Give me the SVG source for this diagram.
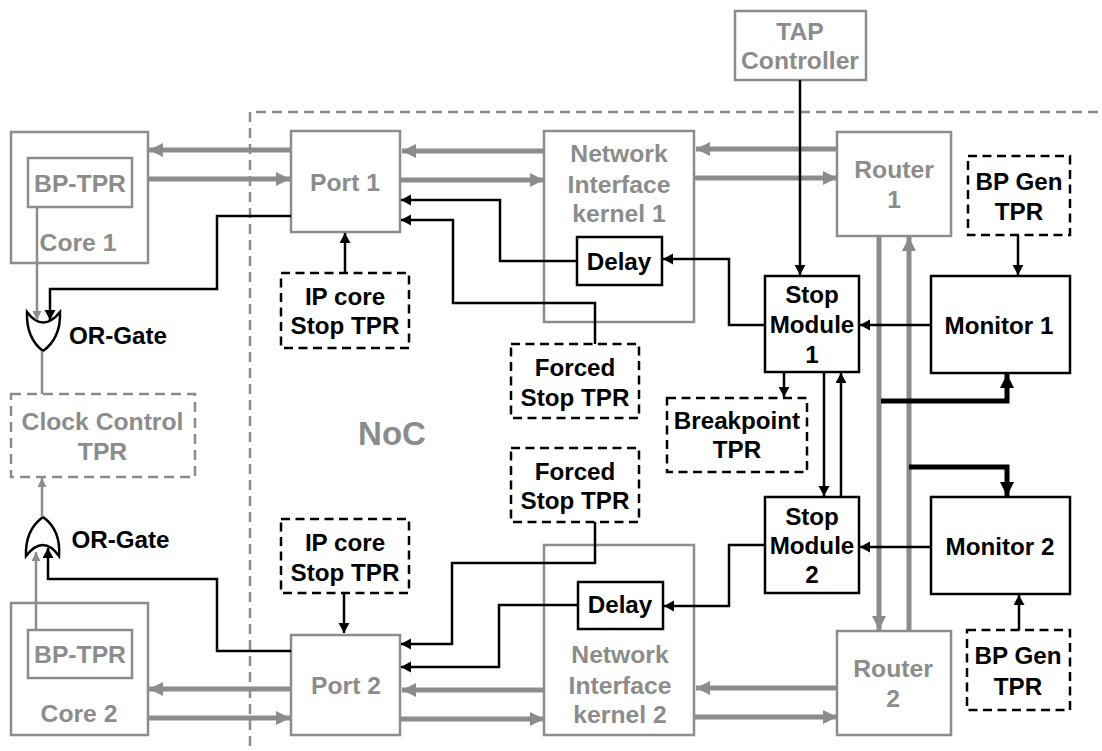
<svg xmlns="http://www.w3.org/2000/svg" width="1102" height="751" viewBox="0 0 1102 751">
<style>
text{font-family:"Liberation Sans",Arial,sans-serif;font-weight:bold;font-size:24.200px;text-anchor:middle}
.g{fill:#8c8c8c;font-size:24.700px}.k{fill:#000}
.bg{fill:#fff;stroke:#8c8c8c;stroke-width:2.500}
.bk{fill:#fff;stroke:#000;stroke-width:2.500}
.dk{fill:#fff;stroke:#000;stroke-width:2.500;stroke-dasharray:9 5.500}
.dg{fill:#fff;stroke:#8c8c8c;stroke-width:2.500;stroke-dasharray:10 6}
.l{fill:none;stroke:#000;stroke-width:2.500}
.lg{fill:none;stroke:#8c8c8c;stroke-width:2.500}
.t{fill:none;stroke:#8c8c8c;stroke-width:5}
.tk{fill:none;stroke:#000;stroke-width:5}
</style>
<defs>
<marker id="a" markerUnits="userSpaceOnUse" markerWidth="11" markerHeight="12" refX="10" refY="5.500" orient="auto"><path d="M0 0L10 5.500L0 11z" fill="#000"/></marker>
<marker id="ag" markerUnits="userSpaceOnUse" markerWidth="10" markerHeight="10" refX="9" refY="4.500" orient="auto"><path d="M0 0L9 4.500L0 9z" fill="#8c8c8c"/></marker>
<marker id="at" markerUnits="userSpaceOnUse" markerWidth="15" markerHeight="15" refX="14" refY="7" orient="auto"><path d="M0 0L14 7L0 14z" fill="#8c8c8c"/></marker>
<marker id="ak" markerUnits="userSpaceOnUse" markerWidth="15" markerHeight="15" refX="14" refY="7" orient="auto"><path d="M0 0L14 7L0 14z" fill="#000"/></marker>
</defs>
<path id="noc-boundary" d="M1098 112H250V751" fill="none" stroke="#8c8c8c" stroke-width="2.500" stroke-dasharray="10 6"/>
<text class="g" x="392" y="445" style="font-size:33px">NoC</text>
<g id="core1"><rect class="bg" x="11" y="132" width="137" height="131"/><text class="g" x="78" y="251">Core 1</text></g>
<g id="bptpr1"><rect class="bg" x="28" y="158" width="104" height="49"/><text class="g" x="80" y="192">BP-TPR</text></g>
<g id="port1"><rect class="bg" x="291" y="131" width="109" height="101"/><text class="g" x="345" y="191">Port 1</text></g>
<g id="ni1"><rect class="bg" x="544" y="131" width="150" height="191"/><text class="g" x="619" y="162">Network</text><text class="g" x="619" y="193">Interface</text><text class="g" x="619" y="222">kernel 1</text></g>
<g id="router1"><rect class="bg" x="837" y="132" width="114" height="104"/><text class="g" x="894" y="178">Router</text><text class="g" x="894" y="208">1</text></g>
<g id="tap"><rect class="bg" x="735" y="11" width="131" height="69"/><text class="g" x="800" y="40">TAP</text><text class="g" x="800" y="69">Controller</text></g>
<g id="bpgen1"><rect class="dk" x="968" y="156" width="102" height="79"/><text x="1019" y="190">BP Gen</text><text x="1019" y="220">TPR</text></g>
<g id="delay1"><rect class="bk" x="577" y="237" width="85" height="48"/><text x="619" y="270">Delay</text></g>
<g id="ipcore1"><rect class="dk" x="281" y="273" width="128" height="75"/><text x="345" y="305">IP core</text><text x="345" y="334">Stop TPR</text></g>
<g id="forced1"><rect class="dk" x="511" y="344" width="128" height="74"/><text x="575" y="376">Forced</text><text x="575" y="406">Stop TPR</text></g>
<g id="stop1"><rect class="bk" x="765" y="276" width="94" height="96"/><text x="812" y="303">Stop</text><text x="812" y="333">Module</text><text x="812" y="363">1</text></g>
<g id="monitor1"><rect class="bk" x="931" y="276" width="139" height="97"/><text x="999" y="334">Monitor 1</text></g>
<g id="breakpoint"><rect class="dk" x="667" y="398" width="140" height="74"/><text x="737" y="429">Breakpoint</text><text x="737" y="458">TPR</text></g>
<g id="clock"><rect class="dg" x="11" y="394" width="184" height="83"/><text class="g" x="102.500" y="430">Clock Control</text><text class="g" x="102.500" y="460">TPR</text></g>
<g id="forced2"><rect class="dk" x="511" y="448" width="128" height="74"/><text x="575" y="480">Forced</text><text x="575" y="509">Stop TPR</text></g>
<g id="stop2"><rect class="bk" x="765" y="497" width="94" height="96"/><text x="812" y="525">Stop</text><text x="812" y="554">Module</text><text x="812" y="583">2</text></g>
<g id="monitor2"><rect class="bk" x="931" y="497" width="139" height="97"/><text x="1000" y="555">Monitor 2</text></g>
<g id="ipcore2"><rect class="dk" x="281" y="519" width="128" height="74"/><text x="345" y="551">IP core</text><text x="345" y="581">Stop TPR</text></g>
<g id="ni2"><rect class="bg" x="544" y="545" width="150" height="190"/><text class="g" x="620" y="663">Network</text><text class="g" x="620" y="694">Interface</text><text class="g" x="620" y="723">kernel 2</text></g>
<g id="delay2"><rect class="bk" x="578" y="582" width="85" height="47"/><text x="620" y="613">Delay</text></g>
<g id="core2"><rect class="bg" x="11" y="603" width="137" height="132"/><text class="g" x="79" y="722">Core 2</text></g>
<g id="bptpr2"><rect class="bg" x="28" y="630" width="104" height="48"/><text class="g" x="80" y="663">BP-TPR</text></g>
<g id="port2"><rect class="bg" x="291" y="635" width="109" height="100"/><text class="g" x="346" y="694">Port 2</text></g>
<g id="router2"><rect class="bg" x="837" y="631" width="114" height="104"/><text class="g" x="893" y="677">Router</text><text class="g" x="893" y="707">2</text></g>
<g id="bpgen2"><rect class="dk" x="967" y="630" width="103" height="80"/><text x="1018" y="664">BP Gen</text><text x="1018" y="695">TPR</text></g>
<g id="orgate1"><path d="M27 312Q43 333 60 312Q61 338 43 351Q26 338 27 312z" fill="#fff" stroke="#000" stroke-width="2.500"/><text x="118" y="344">OR-Gate</text></g>
<g id="orgate2"><path d="M26 556Q43 534 59 556Q61 530 43 517Q25 530 26 556z" fill="#fff" stroke="#000" stroke-width="2.500"/><text x="120.500" y="548">OR-Gate</text></g>
<g id="connectors">
<path class="t" marker-end="url(#at)" d="M291 150H149"/>
<path class="t" marker-end="url(#at)" d="M148 179H290"/>
<path class="t" marker-end="url(#at)" d="M544 151H402"/>
<path class="t" marker-end="url(#at)" d="M401 180H544"/>
<path class="t" marker-end="url(#at)" d="M837 149H696"/>
<path class="t" marker-end="url(#at)" d="M694 178H837"/>
<path class="t" marker-end="url(#at)" d="M291 689H149"/>
<path class="t" marker-end="url(#at)" d="M148 718H290"/>
<path class="t" marker-end="url(#at)" d="M544 690H402"/>
<path class="t" marker-end="url(#at)" d="M401 719H544"/>
<path class="t" marker-end="url(#at)" d="M837 688H696"/>
<path class="t" marker-end="url(#at)" d="M694 717H837"/>
<path class="t" marker-end="url(#at)" d="M879 236V630"/>
<path class="t" marker-end="url(#at)" d="M909 631V237"/>
<path class="tk" marker-end="url(#ak)" d="M881 401H1007V374"/>
<path class="tk" marker-end="url(#ak)" d="M909 467H1007V496"/>
<path class="l" marker-end="url(#a)" d="M800 80V275"/>
<path class="l" marker-end="url(#a)" d="M1018 235V275"/>
<path class="l" marker-end="url(#a)" d="M1019 630V595"/>
<path class="l" marker-end="url(#a)" d="M931 325H860"/>
<path class="l" marker-end="url(#a)" d="M931 547H860"/>
<path class="l" marker-end="url(#a)" d="M765 325H729V259H663"/>
<path class="l" marker-end="url(#a)" d="M765 545H729V606H664"/>
<path class="l" marker-end="url(#a)" d="M784 372V397"/>
<path class="l" marker-end="url(#a)" d="M824 372V496"/>
<path class="l" marker-end="url(#a)" d="M841 497V373"/>
<path class="l" marker-end="url(#a)" d="M577 261H500V200H401"/>
<path class="l" marker-end="url(#a)" d="M595 344V303H453V220H401"/>
<path class="l" marker-end="url(#a)" d="M345 273V233"/>
<path class="l" marker-end="url(#a)" d="M344 593V633"/>
<path class="l" marker-end="url(#a)" d="M595 522V563H452V644H401"/>
<path class="l" marker-end="url(#a)" d="M578 605H499V667H401"/>
<path class="l" marker-end="url(#a)" d="M291 216H217V289H50V320"/>
<path class="l" marker-end="url(#a)" d="M291 651H217V579H48V548"/>
<path class="lg" marker-end="url(#ag)" d="M37 207V320"/>
<path class="lg" marker-end="url(#ag)" d="M36 630V552"/>
<path class="lg" d="M42 351V394"/>
<path class="lg" marker-end="url(#ag)" d="M42 517V478"/>
</g>
</svg>
